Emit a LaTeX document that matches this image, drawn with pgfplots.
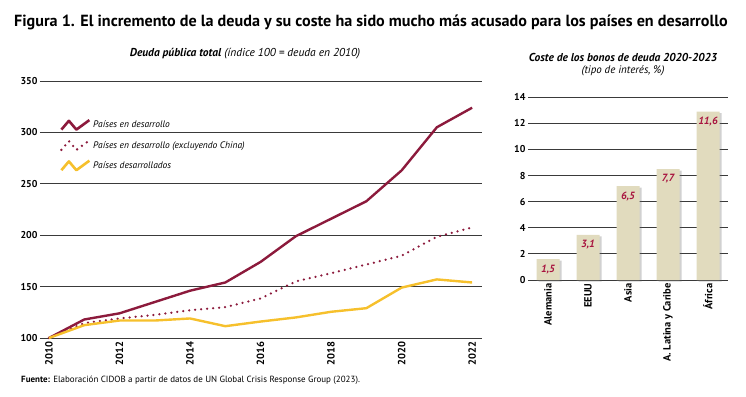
\documentclass[border=0pt]{standalone}
\usepackage{pgfplots}
\pgfplotsset{compat=1.18}
\usepackage{fontspec}
\setmainfont{PT Sans}
\usetikzlibrary{shadows}
\definecolor{dev}{HTML}{8C1A3C}
\definecolor{devy}{HTML}{F6C02C}
\definecolor{barc}{HTML}{E1DBBE}
\definecolor{lab}{HTML}{A8143F}
\definecolor{gridc}{HTML}{3A3A3A}
\begin{document}
\begin{tikzpicture}
\path (0bp,0bp) rectangle (746bp,397bp);
\node[anchor=base west, inner sep=0, font=\bfseries\fontsize{16.2}{17}\selectfont] at (14bp,370bp) {Figura 1. El incremento de la deuda y su coste ha sido mucho más acusado para los países en desarrollo};
\node[anchor=base, inner sep=0, font=\itshape\fontsize{11.5}{12}\selectfont] at (245bp,340bp) {\textbf{Deuda pública total} (índice 100 = deuda en 2010)};
\node[anchor=base, inner sep=0, font=\bfseries\itshape\fontsize{11.5}{12}\selectfont] at (623bp,335bp) {Coste de los bonos de deuda 2020-2023};
\node[anchor=base, inner sep=0, font=\itshape\fontsize{11}{12}\selectfont] at (623bp,323bp) {(tipo de interés, \%)};
\node[anchor=base west, inner sep=0, font=\fontsize{9}{10}\selectfont] at (21bp,15bp) {\textbf{Fuente:} Elaboración CIDOB a partir de datos de UN Global Crisis Response Group (2023).};

\begin{axis}[at={(40bp,59bp)}, anchor=south west, scale only axis, width=442bp, height=257bp,
  xmin=2009.745, xmax=2022.28, ymin=100, ymax=350,
  axis line style={draw=none}, major tick length=0pt,
  ytick={100,150,...,350}, xtick={2010,2012,...,2022},
  /pgf/number format/assume math mode=true,
  /pgf/number format/1000 sep={},
  ymajorgrids, grid style={gridc, line width=0.8bp},
  yticklabel style={font=\bfseries\fontsize{10}{11}\selectfont, xshift=1bp},
  xticklabel style={font=\bfseries\fontsize{10.5}{11}\selectfont, rotate=90, anchor=east},
  clip=false,
  legend style={draw=none, fill=none, at={(0.045,0.855)}, anchor=north west,
    font=\itshape\fontsize{9.5}{10}\selectfont, row sep=7bp, inner sep=0pt,
    nodes={inner sep=2.5pt}},
  legend cell align=left,
  legend image code/.code={\draw[#1, line width=2.6bp] (0bp,-4.5bp) -- (7.5bp,4.3bp) -- (15bp,-4.5bp) -- (28bp,5bp);},
]
\addplot[dev, line width=2.4bp, line join=round] coordinates {
(2010,100) (2011,118) (2012,124) (2013,135) (2014,146) (2015,154) (2016,174) (2017,199) (2018,216) (2019,233) (2020,263) (2021,305) (2022,324)};
\addlegendentry{Países en desarrollo}
\addplot[dev, line width=2.5bp, line cap=round, dash pattern=on 0pt off 6bp] coordinates {
(2010,100) (2011,114.5) (2012,119) (2013,122.5) (2014,127) (2015,130) (2016,138.5) (2017,155) (2018,163) (2019,171.5) (2020,180) (2021,198.5) (2022,207.5)};
\addlegendentry{Países en desarrollo (excluyendo China)}
\addplot[devy, line width=2.4bp, line join=round] coordinates {
(2010,100) (2011,112.5) (2012,117) (2013,117) (2014,119) (2015,111.5) (2016,116) (2017,120) (2018,125.5) (2019,129) (2020,149) (2021,157) (2022,154)};
\addlegendentry{Países desarrollados}
\end{axis}

\begin{axis}[at={(528bp,117bp)}, anchor=south west, scale only axis, width=200bp, height=182.7bp,
  xmin=-0.5, xmax=4.5, ymin=0, ymax=14,
  axis line style={draw=none}, major tick length=0pt,
  ytick={0,2,...,14}, xtick={0,...,4},
  xticklabels={Alemania,EEUU,Asia,A. Latina y Caribe,África},
  /pgf/number format/assume math mode=true,
  ymajorgrids, grid style={gridc, line width=0.8bp},
  yticklabel style={font=\bfseries\fontsize{10}{11}\selectfont, xshift=1bp},
  xticklabel style={font=\bfseries\fontsize{10.5}{11}\selectfont, rotate=90, anchor=east},
  clip=false,
]
\addplot[ybar, bar width=23bp, fill=barc, draw=none,
  drop shadow={shadow xshift=2bp, shadow yshift=-1.5bp, opacity=0.3, fill=black!60},
  nodes near coords, point meta=explicit symbolic,
  every node near coord/.append style={anchor=north, yshift=-2bp, text=lab, font=\bfseries\itshape\fontsize{10.5}{11}\selectfont}]
table[x=x, y=y, meta=l] {
x y l
0 1.6 1,5
1 3.45 3,1
2 7.2 6,5
3 8.5 7,7
4 12.9 11,6
};
\end{axis}
\end{tikzpicture}
\end{document}
